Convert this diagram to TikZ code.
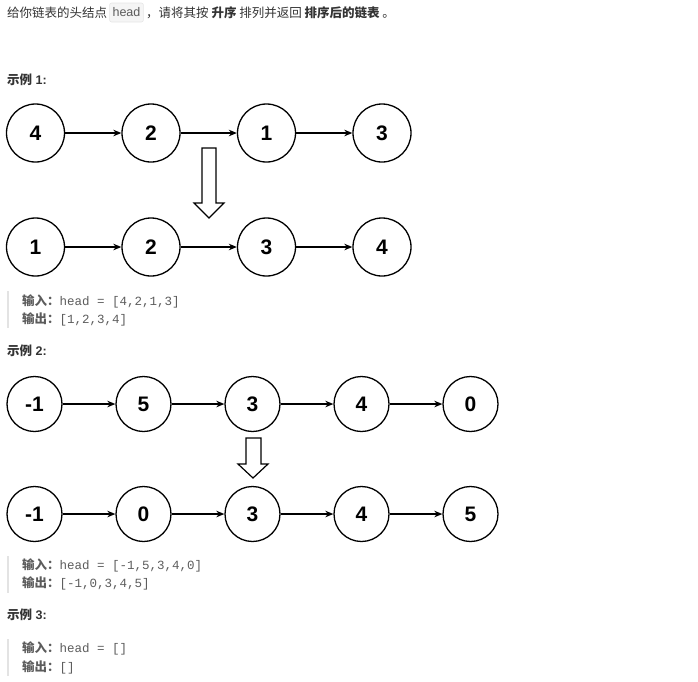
\documentclass[tikz,border=0pt]{standalone}
\usepackage{fontspec}
\setmainfont{Liberation Sans}
\newfontfamily\cjk{Noto Sans CJK SC}
\newfontfamily\monof{Liberation Mono}
\usetikzlibrary{arrows.meta}
\definecolor{txt}{HTML}{333333}
\definecolor{grtxt}{HTML}{5C5C5C}
\definecolor{barc}{HTML}{E3E3E3}
\definecolor{codebg}{HTML}{F5F5F5}
\definecolor{codebd}{HTML}{E6E6E6}
\tikzset{
  lnode/.style={circle, draw=black, line width=1.3pt, fill=white, inner sep=0pt, font=\fontsize{21}{21}\selectfont\bfseries},
  big/.style={lnode, minimum size=58pt},
  mid/.style={lnode, minimum size=55pt},
  link/.style={line width=1.3pt, -{Stealth[length=8pt,width=6.5pt,inset=2.5pt]}},
  hollow/.style={draw=black, line width=1.2pt, fill=white, line join=miter},
  tx/.style={anchor=west, inner sep=0pt, text=txt, font=\fontsize{12.5}{14}\selectfont},
  intx/.style={anchor=west, inner sep=0pt, text=grtxt, font=\fontsize{12.5}{14}\selectfont},
  quotebar/.style={draw=barc, line width=2pt},
}
\begin{document}
\begin{tikzpicture}[x=1pt, y=-1pt]
\useasboundingbox (0,0) rectangle (698,681);
% title
\node[tx] (t1) at (7,13) {\cjk 给你链表的头结点};
\node[draw=codebd, fill=codebg, rounded corners=2pt, line width=0.6pt, inner xsep=3pt, inner ysep=0pt, minimum height=19pt, text=grtxt, font=\fontsize{12.5}{14}\selectfont] (hd) at (126.5,12.5) {head};
\node[tx] (t2) at (146,13) {\cjk ，请将其按 \textbf{升序} 排列并返回 \textbf{排序后的链表} 。};
% example 1
\node[tx] (e1) at (7,80) {\bfseries{\cjk 示例} 1:};
\node[big] (a1) at (35.5,133) {4};
\node[big] (a2) at (151,133) {2};
\node[big] (a3) at (266.5,133) {1};
\node[big] (a4) at (382,133) {3};
\node[big] (b1) at (35.5,247) {1};
\node[big] (b2) at (151,247) {2};
\node[big] (b3) at (266.5,247) {3};
\node[big] (b4) at (382,247) {4};
\draw[link] (a1) -- (a2);
\draw[link] (a2) -- (a3);
\draw[link] (a3) -- (a4);
\draw[link] (b1) -- (b2);
\draw[link] (b2) -- (b3);
\draw[link] (b3) -- (b4);
\draw[hollow] (202,148) -- (216,148) -- (216,203) -- (224,203) -- (209,218) -- (194,203) -- (202,203) -- cycle;
\draw[quotebar] (8,291) -- (8,328);
\node[intx] (i1) at (22,301) {{\cjk\bfseries 输入：}{\monof head = [4,2,1,3]}};
\node[intx] (o1) at (22,319) {{\cjk\bfseries 输出：}{\monof [1,2,3,4]}};
% example 2
\node[tx] (e2) at (7,351) {\bfseries{\cjk 示例} 2:};
\node[mid] (c1) at (34.5,404) {-1};
\node[mid] (c2) at (143.5,404) {5};
\node[mid] (c3) at (252.5,404) {3};
\node[mid] (c4) at (361.5,404) {4};
\node[mid] (c5) at (470.5,404) {0};
\node[mid] (d1) at (34.5,514) {-1};
\node[mid] (d2) at (143.5,514) {0};
\node[mid] (d3) at (252.5,514) {3};
\node[mid] (d4) at (361.5,514) {4};
\node[mid] (d5) at (470.5,514) {5};
\draw[link] (c1) -- (c2);
\draw[link] (c2) -- (c3);
\draw[link] (c3) -- (c4);
\draw[link] (c4) -- (c5);
\draw[link] (d1) -- (d2);
\draw[link] (d2) -- (d3);
\draw[link] (d3) -- (d4);
\draw[link] (d4) -- (d5);
\draw[hollow] (246,438) -- (261,438) -- (261,464) -- (268,464) -- (253,478) -- (238,464) -- (246,464) -- cycle;
\draw[quotebar] (8,556) -- (8,593);
\node[intx] (i2) at (22,565) {{\cjk\bfseries 输入：}{\monof head = [-1,5,3,4,0]}};
\node[intx] (o2) at (22,583) {{\cjk\bfseries 输出：}{\monof [-1,0,3,4,5]}};
% example 3
\node[tx] (e3) at (7,615) {\bfseries{\cjk 示例} 3:};
\draw[quotebar] (8,639) -- (8,676);
\node[intx] (i3) at (22,648) {{\cjk\bfseries 输入：}{\monof head = []}};
\node[intx] (o3) at (22,667) {{\cjk\bfseries 输出：}{\monof []}};
\end{tikzpicture}
\end{document}
